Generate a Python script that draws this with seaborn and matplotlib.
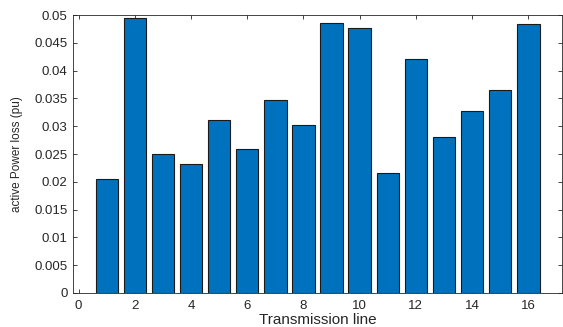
import matplotlib
matplotlib.use("Agg")
import matplotlib.pyplot as plt
import seaborn as sns
import numpy as np

lines = [1, 2, 3, 4, 5, 6, 7, 8, 9, 10, 11, 12, 13, 14, 15, 16]
loss = [0.0205, 0.0495, 0.0250, 0.0232, 0.0312, 0.0259, 0.0347, 0.0302,
        0.0485, 0.0476, 0.0216, 0.0421, 0.0281, 0.0327, 0.0365, 0.0483]
xticks = [0, 2, 4, 6, 8, 10, 12, 14, 16]
yticks = [0, 0.005, 0.01, 0.015, 0.02, 0.025, 0.03, 0.035, 0.04, 0.045, 0.05]
yticklabels = ["0", "0.005", "0.01", "0.015", "0.02", "0.025", "0.03", "0.035", "0.04", "0.045", "0.05"]

sns.set_style("white")
plt.rcParams['font.family'] = ['Liberation Sans', 'DejaVu Sans']

fig = plt.figure(figsize=(5.63, 3.27), dpi=100)
ax = fig.add_axes([0.1297, 0.104, 0.8685, 0.850])

sns.barplot(x=lines, y=loss, native_scale=True, color='#0072BD', saturation=1,
            edgecolor='#1a1a1a', linewidth=0.8, width=0.8, ax=ax)

ax.set_xlim(-0.2, 17.2)
ax.set_ylim(0, 0.05)
ax.set_xticks(xticks)
ax.set_xticklabels([str(t) for t in xticks], fontsize=9.5)
ax.set_yticks(yticks)
ax.set_yticklabels(yticklabels, fontsize=9.5)
ax.tick_params(direction='in', length=3, width=0.6, top=True, right=True,
               bottom=True, left=True, colors='#262626', labelcolor='#262626')
ax.tick_params(axis='x', pad=5)
ax.tick_params(axis='y', pad=4)
for s in ax.spines.values():
    s.set_visible(True)
    s.set_linewidth(0.6)
    s.set_color('#262626')
ax.set_xlabel("Transmission line", fontsize=11, labelpad=1, color='#262626')
ax.set_ylabel("active Power loss (pu)", fontsize=8.5, labelpad=8, color='#262626')

fig.savefig("out.png", dpi=100)
